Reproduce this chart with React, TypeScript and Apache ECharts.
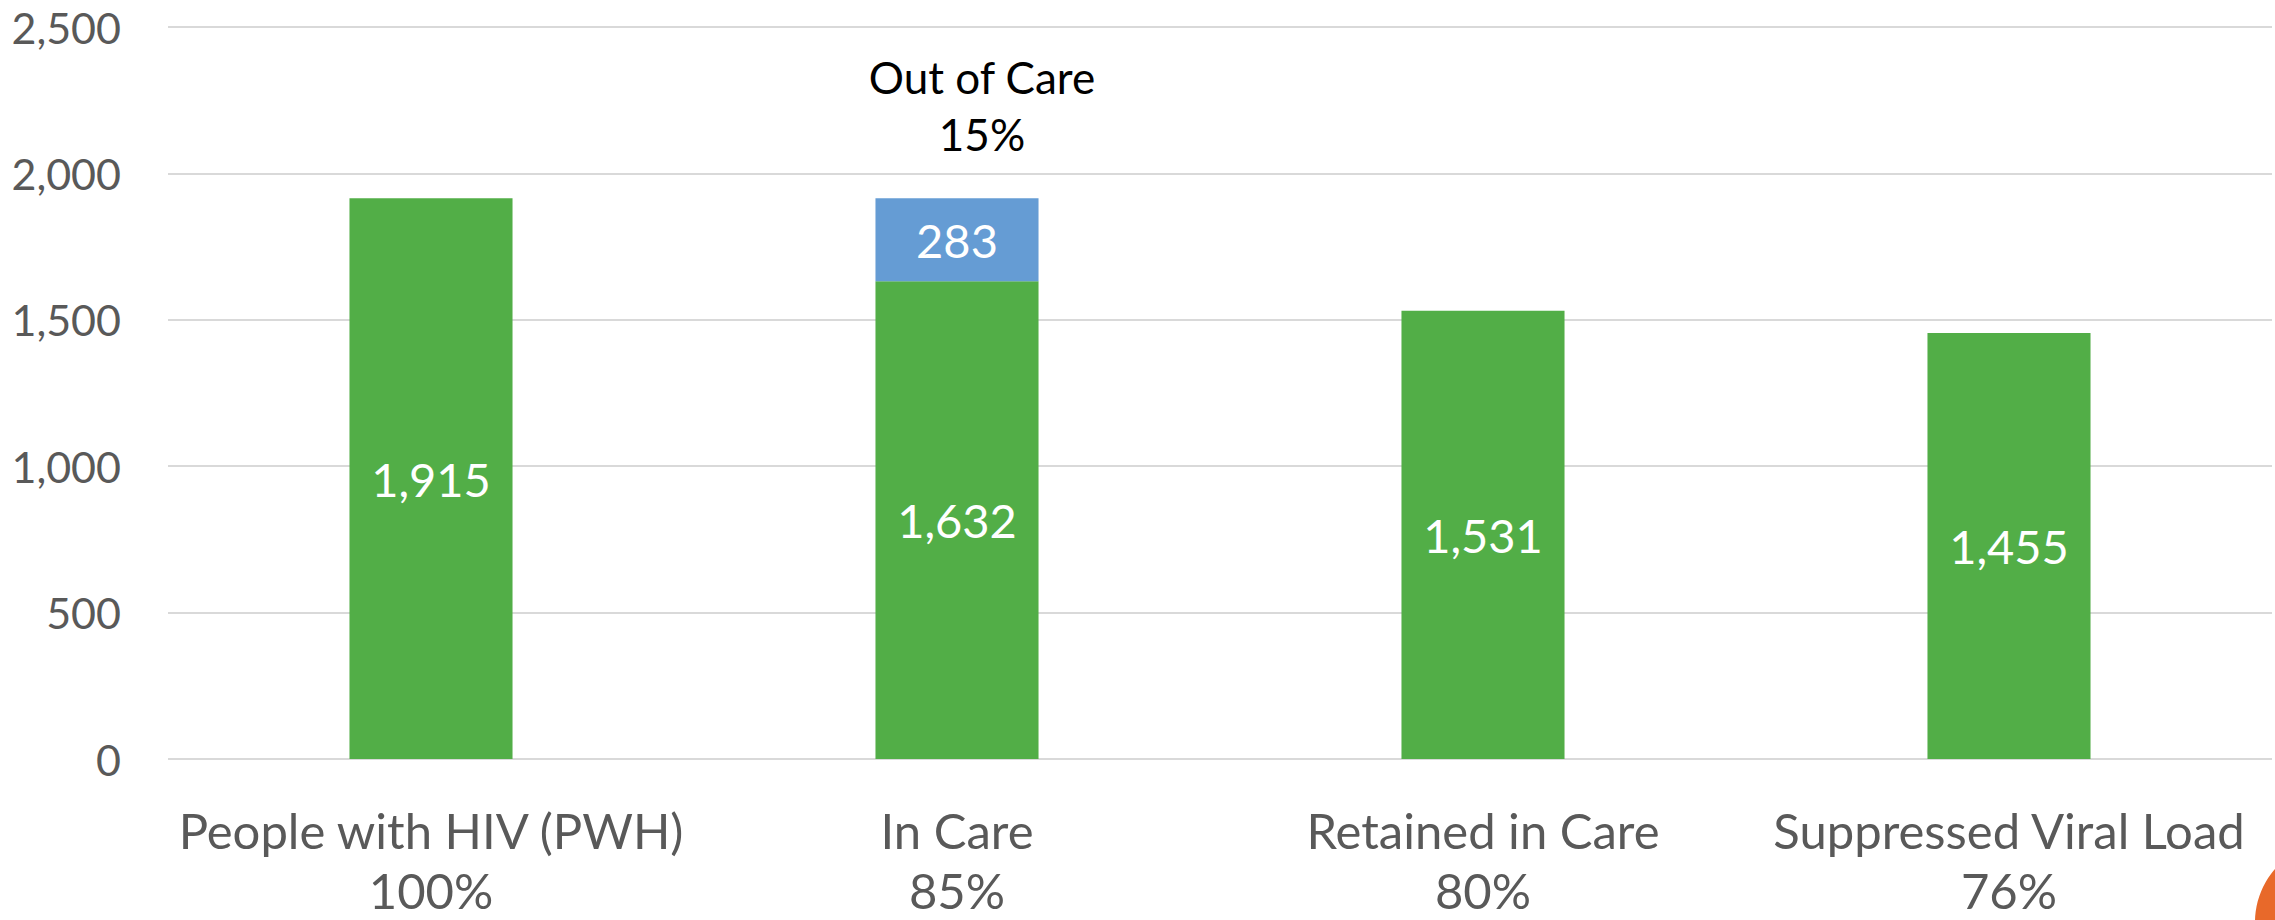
import React, { useEffect, useRef } from "react";
import * as echarts from "echarts";

const categories = ["People with HIV (PWH)", "In Care", "Retained in Care", "Suppressed Viral Load"];
const pctLabels = ["100%", "85%", "80%", "76%"];
const inCareValues = [1915, 1632, 1531, 1455];
const outOfCareValues = [null, 283, null, null];
const outOfCareNote = { category: "In Care", total: 1915, text: "Out of Care\n15%" };
const yTicks = { min: 0, max: 2500, interval: 500 };

const FONT = "Lato, 'Open Sans', sans-serif";

export default function App() {
  const ref = useRef<HTMLDivElement>(null);
  useEffect(() => {
    if (!ref.current) return;
    const chart = echarts.init(ref.current, undefined, { renderer: "svg" });
    chart.setOption({
      animation: false,
      textStyle: { fontFamily: FONT },
      grid: { left: 168, right: 3, top: 27, bottom: 145, containLabel: false },
      xAxis: {
        type: "category",
        data: categories,
        axisLine: { show: false },
        axisTick: { show: false },
        axisLabel: {
          interval: 0,
          margin: 41,
          color: "#595959",
          fontSize: 49,
          lineHeight: 60,
          fontFamily: FONT,
          formatter: (v: string, i: number) => `${v}\n${pctLabels[i]}`,
        },
      },
      yAxis: {
        type: "value",
        min: yTicks.min,
        max: yTicks.max,
        interval: yTicks.interval,
        axisLine: { show: false },
        axisTick: { show: false },
        splitLine: { lineStyle: { color: "#D9D9D9", width: 2 } },
        axisLabel: {
          margin: 47,
          color: "#595959",
          fontSize: 43,
          fontFamily: FONT,
          formatter: (v: number) => v.toLocaleString("en-US"),
        },
      },
      series: [
        {
          name: "In Care",
          type: "bar",
          stack: "total",
          barWidth: "31%",
          data: inCareValues,
          itemStyle: { color: "#52AE47" },
          label: {
            show: true,
            position: "inside",
            color: "#FFFFFF",
            fontSize: 47,
            fontFamily: FONT,
            formatter: (p: any) => Number(p.value).toLocaleString("en-US"),
          },
        },
        {
          name: "Out of Care",
          type: "bar",
          stack: "total",
          barWidth: "31%",
          data: outOfCareValues,
          itemStyle: { color: "#659CD4" },
          label: {
            show: true,
            position: "inside",
            color: "#FFFFFF",
            fontSize: 47,
            fontFamily: FONT,
            formatter: (p: any) => Number(p.value).toLocaleString("en-US"),
          },
          markPoint: {
            symbol: "circle",
            symbolSize: 0,
            data: [
              {
                coord: [outOfCareNote.category, outOfCareNote.total],
                label: {
                  show: true,
                  position: "inside",
                  offset: [25, -93],
                  formatter: outOfCareNote.text,
                  color: "#000000",
                  fontSize: 44,
                  lineHeight: 57,
                  fontFamily: FONT,
                },
              },
            ],
          },
        },
      ],
      graphic: [
        {
          type: "circle",
          shape: { cx: 2335, cy: 922, r: 80 },
          style: { fill: "#E8692A" },
          silent: true,
        },
      ],
    });
    return () => chart.dispose();
  }, []);
  return (
    <div
      ref={ref}
      style={{ position: "fixed", left: 0, top: 0, width: 2275, height: 920, background: "#FFFFFF" }}
    />
  );
}
